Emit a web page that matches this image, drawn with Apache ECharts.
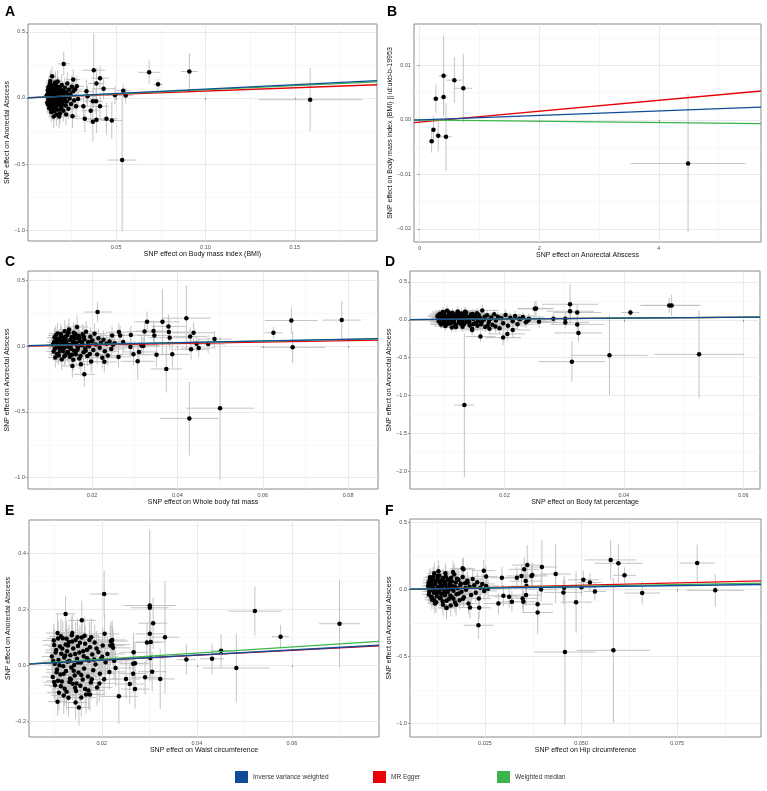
<!DOCTYPE html>
<html lang="en">
<head>
<meta charset="UTF-8">
<script src="https://cdn.jsdelivr.net/npm/echarts@6.0.0/dist/echarts.min.js"></script>
<title>MR scatter plots</title>
<style>
    html, body { margin: 0; padding: 0; background: #fff; }
    #main { width: 767px; height: 791px; }
</style>
</head>
<body>
<div id="main"></div>
<script type="text/javascript">
    // each row: [beta exposure, beta outcome, bar half-width x, bar half-width y]
    var snpA = [
        [0.0112,0.021,0.0018,0.062],[0.0115,-0.034,0.0019,0.071],[0.0118,0.058,0.0020,0.066],[0.0121,-0.012,0.0018,0.058],[0.0123,0.087,0.0021,0.074],[0.0125,0.004,0.0019,0.052],[0.0127,-0.061,0.0022,0.068],[0.0129,0.039,0.0020,0.061],[0.0131,0.112,0.0023,0.079],[0.0133,-0.024,0.0021,0.064],
        [0.0134,0.015,0.0019,0.057],[0.0136,-0.083,0.0022,0.072],[0.0138,0.066,0.0024,0.069],[0.0139,-0.005,0.0020,0.055],[0.0141,0.031,0.0023,0.063],[0.0143,-0.047,0.0021,0.070],[0.0145,0.094,0.0025,0.077],[0.0146,0.008,0.0022,0.059],[0.0148,-0.029,0.0024,0.066],[0.0150,0.052,0.0023,0.062],
        [0.0152,-0.101,0.0026,0.081],[0.0153,0.019,0.0022,0.058],[0.0155,0.073,0.0025,0.071],[0.0157,-0.016,0.0023,0.060],[0.0158,0.041,0.0024,0.065],[0.0160,-0.066,0.0026,0.074],[0.0162,0.105,0.0027,0.082],[0.0163,-0.002,0.0023,0.056],[0.0165,0.028,0.0025,0.063],[0.0167,-0.039,0.0024,0.069],
        [0.0169,0.061,0.0026,0.072],[0.0170,0.011,0.0025,0.059],[0.0172,-0.089,0.0027,0.078],[0.0174,0.047,0.0026,0.066],[0.0176,-0.021,0.0025,0.061],[0.0178,0.083,0.0028,0.075],[0.0180,0.002,0.0026,0.058],[0.0182,-0.053,0.0027,0.070],[0.0184,0.035,0.0028,0.064],[0.0186,-0.118,0.0029,0.085],
        [0.0188,0.068,0.0027,0.071],[0.0190,-0.008,0.0028,0.060],[0.0192,0.023,0.0029,0.067],[0.0194,-0.072,0.0030,0.076],[0.0196,0.098,0.0029,0.080],[0.0198,0.014,0.0028,0.062],[0.0201,-0.035,0.0030,0.069],[0.0203,0.055,0.0031,0.073],[0.0205,-0.097,0.0031,0.082],[0.0208,0.038,0.0030,0.066],
        [0.0210,-0.015,0.0032,0.064],[0.0213,0.078,0.0033,0.077],[0.0215,0.006,0.0031,0.061],[0.0218,-0.058,0.0033,0.074],[0.0221,0.044,0.0034,0.070],[0.0224,-0.026,0.0033,0.068],[0.0227,0.109,0.0035,0.085],[0.0230,0.017,0.0034,0.065],[0.0233,-0.081,0.0036,0.080],[0.0236,0.062,0.0035,0.074],
        [0.0240,-0.004,0.0036,0.067],[0.0244,0.029,0.0037,0.071],[0.0248,-0.045,0.0038,0.076],[0.0252,0.085,0.0039,0.081],[0.0256,-0.138,0.0040,0.090],[0.0260,0.051,0.0041,0.078],[0.0265,-0.019,0.0042,0.073],[0.0270,0.066,0.0043,0.082],[0.0276,-0.062,0.0044,0.085],[0.0120,0.045,0.0019,0.064],
        [0.0126,-0.078,0.0020,0.070],[0.0132,0.128,0.0022,0.083],[0.0137,-0.106,0.0023,0.077],[0.0144,0.002,0.0021,0.057],[0.0151,-0.140,0.0025,0.088],[0.0159,0.118,0.0026,0.084],[0.0166,-0.125,0.0026,0.086],[0.0173,0.125,0.0027,0.087],[0.0181,-0.140,0.0028,0.089],[0.0135,0.052,0.0021,0.060],
        [0.0147,0.070,0.0023,0.064],[0.0156,-0.050,0.0024,0.066],[0.0164,0.086,0.0025,0.070],[0.0171,-0.030,0.0026,0.063],
        [0.0117,0.010,0.0019,0.060],[0.0119,-0.050,0.0019,0.066],[0.0122,0.075,0.0020,0.070],[0.0124,-0.020,0.0020,0.058],[0.0128,0.025,0.0021,0.062],[0.0130,-0.040,0.0021,0.065],[0.0133,0.090,0.0022,0.073],[0.0135,-0.065,0.0022,0.069],[0.0138,0.030,0.0022,0.060],[0.0140,-0.015,0.0022,0.058],
        [0.0142,0.058,0.0023,0.066],[0.0144,-0.090,0.0024,0.075],[0.0147,0.020,0.0023,0.059],[0.0149,-0.008,0.0023,0.057],[0.0152,0.080,0.0024,0.071],[0.0154,-0.035,0.0024,0.063],[0.0157,0.045,0.0025,0.064],[0.0159,-0.075,0.0025,0.072],[0.0161,0.010,0.0024,0.058],[0.0164,0.060,0.0025,0.067],
        [0.0167,-0.055,0.0026,0.070],[0.0170,0.032,0.0026,0.063],[0.0173,-0.010,0.0026,0.060],[0.0177,0.070,0.0027,0.072],[0.0181,-0.030,0.0027,0.064],[0.0185,0.050,0.0028,0.068],[0.0189,-0.085,0.0029,0.077],[0.0193,0.040,0.0029,0.067],[0.0199,-0.050,0.0030,0.071],[0.0206,0.020,0.0031,0.066],
        [0.0207,0.258,0.0033,0.09],[0.0375,0.210,0.0065,0.28],[0.039,0.110,0.0045,0.12],[0.041,0.150,0.005,0.09],[0.043,0.070,0.0065,0.08],[0.0334,0.050,0.004,0.09],[0.0494,0.020,0.005,0.07],[0.054,0.055,0.004,0.05],
        [0.0554,0.018,0.004,0.06],[0.0685,0.194,0.0062,0.09],[0.0735,0.103,0.003,0.04],[0.091,0.200,0.0047,0.14],[0.1586,-0.013,0.029,0.24],[0.0534,-0.470,0.0082,0.54],[0.0446,-0.157,0.006,0.12],[0.0476,-0.170,0.006,0.14],
        [0.039,-0.165,0.005,0.1],[0.037,-0.180,0.004,0.15],[0.0325,-0.157,0.006,0.1],[0.0358,-0.096,0.005,0.09],[0.0317,-0.063,0.004,0.08],[0.0287,-0.008,0.004,0.07],[0.034,0.013,0.005,0.08],[0.037,-0.025,0.005,0.08],
        [0.0388,-0.025,0.004,0.09],[0.041,-0.063,0.005,0.1],[0.026,0.14,0.004,0.08],[0.028,0.088,0.004,0.08],[0.022,-0.126,0.003,0.08],[0.0142,0.164,0.002,0.07]
    ];
    var snpB = [
        [0.20,-0.0039,0.03,0.0021],[0.23,-0.0018,0.03,0.0025],[0.27,0.0039,0.05,0.0026],[0.31,-0.0029,0.05,0.0029],[0.40,0.0042,0.06,0.0032],
        [0.40,0.0081,0.08,0.0074],[0.44,-0.0031,0.10,0.0062],[0.58,0.0073,0.13,0.0042],[0.73,0.0058,0.15,0.0063],[4.49,-0.0080,0.96,0.0127]
    ];
    var snpC = [
        [0.0108,0.012,0.0016,0.058],[0.0110,-0.041,0.0017,0.066],[0.0112,0.064,0.0018,0.071],[0.0114,-0.088,0.0017,0.075],[0.0116,0.028,0.0018,0.060],[0.0118,-0.009,0.0019,0.055],[0.0119,0.096,0.0020,0.079],[0.0121,-0.058,0.0019,0.068],[0.0123,0.041,0.0020,0.062],[0.0124,0.003,0.0018,0.054],
        [0.0126,-0.027,0.0020,0.064],[0.0128,0.075,0.0021,0.072],[0.0129,-0.103,0.0022,0.081],[0.0131,0.019,0.0020,0.058],[0.0133,0.052,0.0021,0.066],[0.0134,-0.016,0.0020,0.061],[0.0136,0.113,0.0023,0.083],[0.0137,-0.069,0.0022,0.073],[0.0139,0.034,0.0021,0.063],[0.0140,-0.004,0.0020,0.057],
        [0.0142,0.083,0.0023,0.075],[0.0143,-0.045,0.0022,0.069],[0.0145,0.009,0.0021,0.056],[0.0146,0.125,0.0024,0.085],[0.0148,-0.081,0.0023,0.077],[0.0149,0.046,0.0022,0.065],[0.0151,-0.022,0.0022,0.062],[0.0152,0.068,0.0023,0.070],[0.0154,-0.151,0.0025,0.090],[0.0155,0.015,0.0022,0.059],
        [0.0157,0.101,0.0024,0.080],[0.0158,-0.035,0.0023,0.066],[0.0160,0.058,0.0024,0.068],[0.0162,-0.062,0.0024,0.072],[0.0163,0.024,0.0023,0.061],[0.0165,0.145,0.0026,0.088],[0.0167,-0.011,0.0024,0.060],[0.0168,0.079,0.0025,0.074],[0.0170,-0.094,0.0026,0.080],[0.0172,0.037,0.0025,0.064],
        [0.0174,-0.139,0.0027,0.087],[0.0176,0.006,0.0025,0.058],[0.0178,0.089,0.0026,0.077],[0.0180,-0.048,0.0026,0.070],[0.0182,0.050,0.0027,0.067],[0.0184,-0.019,0.0026,0.063],[0.0186,0.109,0.0028,0.082],[0.0189,-0.075,0.0028,0.076],[0.0191,0.031,0.0027,0.065],[0.0193,-0.002,0.0027,0.059],
        [0.0196,0.071,0.0029,0.073],[0.0198,-0.118,0.0029,0.085],[0.0201,0.043,0.0029,0.068],[0.0203,-0.031,0.0029,0.066],[0.0206,0.094,0.0030,0.079],[0.0209,0.011,0.0030,0.062],[0.0212,-0.064,0.0031,0.075],[0.0215,0.060,0.0031,0.071],[0.0218,-0.013,0.0031,0.064],[0.0221,0.025,0.0032,0.067],
        [0.0224,-0.089,0.0033,0.081],[0.0227,0.048,0.0033,0.070],[0.0230,-0.040,0.0034,0.072],[0.0234,0.017,0.0034,0.066],[0.0237,-0.071,0.0035,0.078],[0.0241,0.034,0.0035,0.070],[0.0245,-0.022,0.0036,0.069],[0.0249,0.010,0.0036,0.068],[0.0253,0.022,0.0037,0.071],[0.0117,0.047,0.0018,0.063],
        [0.0122,-0.072,0.0019,0.070],[0.0127,0.010,0.0019,0.055],[0.0132,-0.037,0.0020,0.063],[0.0138,0.060,0.0021,0.067],[0.0144,-0.055,0.0022,0.069],[0.0150,0.002,0.0021,0.056],[0.0156,-0.104,0.0024,0.082],[0.0161,0.092,0.0024,0.076],[0.0166,-0.028,0.0024,0.064],[0.0171,0.062,0.0025,0.069],
        [0.0111,0.030,0.0017,0.060],[0.0113,-0.020,0.0017,0.062],[0.0115,0.080,0.0018,0.072],[0.0118,-0.060,0.0019,0.068],[0.0120,0.010,0.0019,0.056],[0.0123,0.058,0.0020,0.066],[0.0125,-0.035,0.0020,0.063],[0.0127,0.092,0.0021,0.076],[0.0130,-0.005,0.0020,0.057],[0.0132,0.040,0.0021,0.063],
        [0.0135,-0.080,0.0022,0.074],[0.0137,0.070,0.0022,0.070],[0.0140,0.020,0.0021,0.059],[0.0142,-0.050,0.0022,0.067],[0.0145,0.100,0.0023,0.078],[0.0147,-0.010,0.0022,0.060],[0.0150,0.045,0.0023,0.065],[0.0153,-0.066,0.0024,0.071],[0.0156,0.030,0.0023,0.062],[0.0159,0.082,0.0024,0.074],
        [0.0162,-0.040,0.0024,0.067],[0.0165,0.005,0.0024,0.060],[0.0169,0.055,0.0025,0.068],[0.0173,-0.075,0.0026,0.075],[0.0177,0.025,0.0026,0.064],[0.0181,0.070,0.0027,0.072],[0.0185,-0.035,0.0027,0.067],[0.0190,0.012,0.0027,0.063],[0.0195,-0.060,0.0028,0.071],[0.0200,0.035,0.0029,0.067],
        [0.0213,0.258,0.0032,0.076],[0.0182,-0.215,0.0025,0.095],[0.0329,0.184,0.003,0.08],[0.0365,0.184,0.004,0.25],[0.0379,0.149,0.004,0.09],[0.038,0.106,0.005,0.1],[0.0382,0.063,0.005,0.09],[0.0421,0.212,0.0057,0.25],
        [0.0438,0.101,0.005,0.08],[0.043,0.073,0.004,0.07],[0.0445,0.018,0.004,0.06],[0.045,-0.015,0.004,0.07],[0.0432,-0.025,0.004,0.08],[0.0472,0.015,0.004,0.07],[0.0487,0.053,0.004,0.06],[0.0351,-0.066,0.004,0.09],
        [0.0388,-0.063,0.004,0.1],[0.0374,-0.174,0.0037,0.18],[0.0428,-0.550,0.0068,0.28],[0.0500,-0.472,0.008,0.54],[0.0625,0.101,0.0021,0.045],[0.0667,0.194,0.0062,0.1],[0.067,-0.010,0.0076,0.12],[0.0785,0.197,0.0045,0.145],
        [0.0323,0.110,0.004,0.08],[0.0344,0.114,0.004,0.08],[0.0346,0.080,0.004,0.08],[0.0316,0.005,0.004,0.07],[0.032,0.0,0.004,0.07],[0.031,-0.045,0.004,0.08],[0.0307,-0.116,0.004,0.14],[0.0297,-0.063,0.004,0.08],
        [0.029,-0.008,0.004,0.07],[0.0273,0.030,0.003,0.07],[0.0266,0.080,0.003,0.07],[0.0263,0.106,0.003,0.07],[0.0291,0.083,0.004,0.07],[0.0247,0.080,0.003,0.07],[0.0262,-0.083,0.003,0.08],[0.0229,-0.120,0.003,0.08]
    ];
    var snpD = [
        [0.0088,0.044,0.0016,0.048],[0.0090,-0.021,0.0016,0.052],[0.0092,0.078,0.0017,0.058],[0.0094,-0.062,0.0017,0.056],[0.0095,0.012,0.0016,0.046],[0.0097,0.103,0.0018,0.062],[0.0098,-0.034,0.0017,0.053],[0.0100,0.051,0.0018,0.055],[0.0101,-0.083,0.0018,0.060],[0.0103,0.021,0.0017,0.049],
        [0.0104,0.120,0.0019,0.066],[0.0106,-0.008,0.0018,0.050],[0.0107,0.064,0.0019,0.057],[0.0109,-0.047,0.0019,0.058],[0.0110,0.033,0.0018,0.052],[0.0112,-0.101,0.0020,0.064],[0.0113,0.089,0.0020,0.061],[0.0115,0.004,0.0019,0.048],[0.0116,-0.026,0.0019,0.054],[0.0118,0.071,0.0020,0.059],
        [0.0119,-0.069,0.0020,0.061],[0.0121,0.042,0.0020,0.055],[0.0122,0.110,0.0021,0.065],[0.0124,-0.014,0.0020,0.052],[0.0125,0.025,0.0020,0.053],[0.0127,-0.052,0.0021,0.059],[0.0128,0.082,0.0021,0.062],[0.0130,-0.091,0.0022,0.065],[0.0131,0.017,0.0021,0.051],[0.0133,0.055,0.0022,0.058],
        [0.0135,-0.032,0.0022,0.056],[0.0136,0.096,0.0023,0.064],[0.0138,-0.005,0.0022,0.052],[0.0140,0.038,0.0023,0.057],[0.0142,-0.075,0.0023,0.063],[0.0144,0.068,0.0024,0.061],[0.0146,-0.118,0.0025,0.070],[0.0148,0.009,0.0024,0.054],[0.0150,0.047,0.0024,0.058],[0.0152,-0.043,0.0025,0.060],
        [0.0154,0.085,0.0025,0.065],[0.0156,-0.018,0.0025,0.056],[0.0159,0.031,0.0026,0.059],[0.0161,-0.060,0.0026,0.063],[0.0163,0.123,0.0027,0.070],[0.0166,0.002,0.0026,0.057],[0.0168,-0.096,0.0027,0.068],[0.0171,0.058,0.0027,0.063],[0.0174,-0.029,0.0028,0.061],[0.0177,0.014,0.0028,0.060],
        [0.0180,-0.066,0.0029,0.066],[0.0183,0.072,0.0029,0.066],[0.0186,-0.010,0.0029,0.061],[0.0189,0.040,0.0030,0.064],[0.0192,-0.112,0.0031,0.072],[0.0195,0.019,0.0030,0.062],[0.0198,-0.045,0.0031,0.066],[0.0202,0.063,0.0032,0.068],[0.0206,-0.080,0.0032,0.071],[0.0210,0.028,0.0033,0.066],
        [0.0214,-0.020,0.0033,0.067],[0.0218,0.049,0.0034,0.069],[0.0222,-0.058,0.0035,0.072],[0.0226,0.008,0.0035,0.068],[0.0231,0.036,0.0036,0.070],[0.0236,-0.033,0.0037,0.071],[0.0241,0.015,0.0037,0.070],[0.0093,0.030,0.0016,0.050],[0.0099,0.090,0.0017,0.060],[0.0105,-0.055,0.0018,0.057],
        [0.0111,0.010,0.0018,0.049],[0.0117,-0.085,0.0019,0.062],[0.0123,0.060,0.0020,0.058],[0.0129,-0.020,0.0021,0.054],[0.0134,0.105,0.0022,0.066],[0.0141,-0.040,0.0023,0.058],[0.0147,0.075,0.0024,0.062],[0.0155,-0.080,0.0025,0.064],
        [0.0089,0.060,0.0016,0.054],[0.0091,0.000,0.0016,0.050],[0.0093,-0.045,0.0017,0.055],[0.0096,0.035,0.0017,0.052],[0.0098,0.070,0.0017,0.058],[0.0100,-0.015,0.0018,0.051],[0.0102,-0.065,0.0018,0.059],[0.0105,0.045,0.0018,0.055],[0.0107,0.095,0.0019,0.062],[0.0109,0.005,0.0018,0.050],
        [0.0112,-0.040,0.0019,0.056],[0.0114,0.055,0.0019,0.057],[0.0117,0.020,0.0019,0.053],[0.0119,-0.095,0.0020,0.064],[0.0121,0.080,0.0020,0.060],[0.0124,-0.035,0.0020,0.056],[0.0126,0.040,0.0021,0.057],[0.0129,0.005,0.0021,0.053],[0.0132,-0.060,0.0022,0.060],[0.0135,0.075,0.0022,0.062],
        [0.0138,0.020,0.0022,0.056],[0.0141,-0.020,0.0023,0.057],[0.0144,0.050,0.0023,0.060],[0.0148,-0.055,0.0024,0.061],[0.0152,0.025,0.0024,0.058],[0.0157,0.065,0.0025,0.063],[0.0162,-0.030,0.0026,0.060],[0.0167,0.040,0.0026,0.062],[0.0172,-0.075,0.0027,0.066],[0.0178,0.030,0.0028,0.062],
        [0.0133,-1.127,0.0017,0.95],[0.016,-0.222,0.0025,0.07],[0.0198,-0.235,0.003,0.1],[0.0205,-0.187,0.003,0.09],[0.0214,-0.135,0.003,0.1],[0.0251,0.144,0.003,0.1],[0.0253,0.150,0.003,0.1],[0.0258,-0.026,0.003,0.08],
        [0.0282,0.013,0.004,0.08],[0.0302,0.013,0.004,0.08],[0.0302,-0.035,0.004,0.08],[0.031,0.205,0.0047,0.27],[0.031,0.113,0.004,0.1],[0.0322,0.096,0.004,0.1],[0.0322,-0.061,0.0045,0.1],[0.0324,-0.174,0.004,0.11],
        [0.0313,-0.553,0.0056,0.27],[0.0376,-0.470,0.0064,0.53],[0.0411,0.096,0.0015,0.05],[0.0476,0.190,0.0049,0.1],[0.048,0.190,0.0049,0.14],[0.0526,-0.457,0.0075,0.58],[0.0146,-0.135,0.002,0.07],[0.0175,-0.12,0.0025,0.08],
        [0.0185,-0.09,0.003,0.08],[0.0225,0.012,0.003,0.07],[0.0240,-0.005,0.003,0.07]
    ];
    var snpE = [
        [0.0095,0.031,0.0022,0.052],[0.0097,-0.042,0.0023,0.058],[0.0099,0.088,0.0024,0.061],[0.0101,0.005,0.0022,0.047],[0.0102,-0.071,0.0024,0.060],[0.0104,0.054,0.0023,0.054],[0.0106,-0.015,0.0023,0.050],[0.0107,0.115,0.0025,0.066],[0.0109,0.019,0.0023,0.049],[0.0110,-0.098,0.0025,0.064],
        [0.0112,0.067,0.0024,0.057],[0.0113,-0.033,0.0024,0.053],[0.0115,0.041,0.0024,0.051],[0.0116,-0.058,0.0025,0.058],[0.0118,0.096,0.0026,0.063],[0.0119,-0.004,0.0024,0.048],[0.0121,0.028,0.0025,0.050],[0.0122,-0.084,0.0026,0.062],[0.0124,0.074,0.0026,0.059],[0.0125,-0.021,0.0025,0.052],
        [0.0127,0.050,0.0026,0.055],[0.0128,0.012,0.0025,0.049],[0.0130,-0.116,0.0027,0.067],[0.0131,0.083,0.0027,0.061],[0.0133,-0.047,0.0026,0.056],[0.0134,0.036,0.0026,0.052],[0.0136,-0.008,0.0026,0.050],[0.0137,0.107,0.0028,0.066],[0.0139,-0.066,0.0027,0.060],[0.0140,0.060,0.0027,0.057],
        [0.0142,0.001,0.0027,0.050],[0.0143,-0.037,0.0027,0.055],[0.0145,0.090,0.0028,0.063],[0.0146,-0.092,0.0028,0.064],[0.0148,0.023,0.0027,0.052],[0.0150,0.069,0.0028,0.059],[0.0151,-0.026,0.0028,0.054],[0.0153,0.045,0.0028,0.056],[0.0155,-0.073,0.0029,0.062],[0.0156,0.010,0.0028,0.052],
        [0.0158,0.099,0.0029,0.065],[0.0160,-0.051,0.0029,0.059],[0.0162,0.032,0.0029,0.055],[0.0163,-0.012,0.0029,0.053],[0.0165,0.077,0.0030,0.062],[0.0167,-0.104,0.0031,0.068],[0.0169,0.055,0.0030,0.059],[0.0171,-0.040,0.0030,0.058],[0.0173,0.017,0.0030,0.055],[0.0175,0.064,0.0031,0.061],
        [0.0177,-0.062,0.0031,0.062],[0.0180,0.038,0.0031,0.058],[0.0182,-0.018,0.0031,0.057],[0.0185,0.081,0.0032,0.064],[0.0187,0.003,0.0032,0.057],[0.0190,-0.079,0.0033,0.066],[0.0193,0.047,0.0033,0.061],[0.0196,-0.030,0.0033,0.060],[0.0199,0.024,0.0034,0.060],[0.0202,0.070,0.0034,0.064],
        [0.0205,-0.050,0.0035,0.064],[0.0208,0.011,0.0035,0.061],[0.0212,0.040,0.0036,0.063],[0.0216,-0.024,0.0036,0.063],[0.0219,0.086,0.0037,0.068],[0.0222,0.074,0.0037,0.067],[0.0224,0.062,0.0037,0.066],[0.0226,0.016,0.0038,0.064],[0.0229,-0.010,0.0038,0.064],[0.0100,0.072,0.0023,0.058],
        [0.0108,-0.055,0.0024,0.057],[0.0114,0.103,0.0025,0.064],[0.0120,-0.108,0.0026,0.066],[0.0126,0.094,0.0026,0.063],[0.0132,-0.060,0.0027,0.058],[0.0138,0.115,0.0028,0.068],[0.0144,-0.080,0.0028,0.062],[0.0149,0.100,0.0029,0.066],[0.0157,-0.115,0.0030,0.068],[0.0164,0.105,0.0031,0.067],
        [0.0172,-0.090,0.0032,0.066],[0.0178,0.100,0.0032,0.067],
        [0.0098,0.015,0.0022,0.050],[0.0100,-0.060,0.0023,0.058],[0.0103,0.045,0.0023,0.054],[0.0105,-0.025,0.0023,0.052],[0.0108,0.095,0.0024,0.063],[0.0111,0.000,0.0024,0.050],[0.0114,-0.075,0.0025,0.060],[0.0117,0.060,0.0025,0.057],[0.0120,-0.030,0.0025,0.054],[0.0123,0.035,0.0026,0.054],
        [0.0126,-0.095,0.0026,0.064],[0.0129,0.070,0.0026,0.060],[0.0132,0.015,0.0026,0.052],[0.0135,-0.050,0.0027,0.058],[0.0138,0.085,0.0027,0.062],[0.0141,-0.020,0.0027,0.054],[0.0144,0.040,0.0028,0.056],[0.0147,-0.065,0.0028,0.061],[0.0150,0.010,0.0028,0.053],[0.0154,0.080,0.0029,0.062],
        [0.0157,-0.035,0.0029,0.057],[0.0161,0.050,0.0029,0.058],[0.0165,-0.085,0.0030,0.065],[0.0169,0.025,0.0030,0.057],[0.0174,0.090,0.0031,0.064],[0.0179,-0.050,0.0031,0.061],[0.0184,0.020,0.0032,0.059],[0.0189,0.060,0.0032,0.062],[0.0195,-0.065,0.0033,0.064],[0.0201,0.030,0.0034,0.062],
        [0.0205,0.254,0.003,0.083],[0.0124,0.183,0.0021,0.063],[0.0158,0.160,0.003,0.07],[0.0301,0.213,0.0055,0.27],[0.0301,0.205,0.004,0.09],[0.0308,0.150,0.003,0.092],[0.0301,0.112,0.003,0.07],[0.0303,0.083,0.003,0.07],
        [0.0295,0.081,0.003,0.07],[0.0333,0.100,0.003,0.2],[0.0302,0.026,0.003,0.07],[0.0306,-0.023,0.003,0.07],[0.0323,-0.049,0.003,0.107],[0.0291,-0.043,0.003,0.06],[0.0266,0.005,0.003,0.07],[0.027,0.007,0.003,0.07],
        [0.0267,0.046,0.003,0.07],[0.0266,-0.030,0.003,0.07],[0.027,-0.085,0.003,0.07],[0.0259,-0.067,0.003,0.07],[0.0251,-0.049,0.003,0.07],[0.0236,-0.111,0.004,0.098],[0.0378,0.020,0.002,0.054],[0.0432,0.023,0.0025,0.054],
        [0.0451,0.052,0.002,0.06],[0.0483,-0.010,0.007,0.122],[0.0522,0.193,0.0056,0.087],[0.0576,0.102,0.0018,0.042],[0.070,0.148,0.0043,0.155],[0.0107,-0.130,0.002,0.05],[0.0152,-0.151,0.0025,0.065],[0.0145,-0.133,0.0025,0.06],
        [0.0175,-0.104,0.003,0.06],[0.0222,0.090,0.003,0.07],[0.0218,0.070,0.003,0.07],[0.0206,0.112,0.003,0.07]
    ];
    var snpF = [
        [0.0102,0.025,0.0016,0.056],[0.0104,-0.038,0.0017,0.062],[0.0106,0.071,0.0017,0.068],[0.0108,-0.006,0.0016,0.052],[0.0110,0.048,0.0017,0.060],[0.0112,-0.077,0.0018,0.070],[0.0114,0.012,0.0017,0.054],[0.0115,0.093,0.0018,0.073],[0.0117,-0.025,0.0018,0.059],[0.0119,0.036,0.0018,0.058],
        [0.0120,-0.104,0.0019,0.078],[0.0122,0.062,0.0019,0.066],[0.0124,0.001,0.0018,0.053],[0.0125,-0.051,0.0019,0.064],[0.0127,0.084,0.0020,0.071],[0.0128,0.019,0.0019,0.056],[0.0130,-0.015,0.0019,0.057],[0.0131,0.104,0.0020,0.076],[0.0133,-0.066,0.0020,0.067],[0.0134,0.043,0.0020,0.060],
        [0.0136,-0.032,0.0020,0.061],[0.0137,0.007,0.0020,0.054],[0.0139,0.075,0.0021,0.069],[0.0140,-0.089,0.0021,0.073],[0.0142,0.030,0.0021,0.058],[0.0143,-0.003,0.0020,0.055],[0.0145,0.056,0.0021,0.064],[0.0146,-0.044,0.0021,0.062],[0.0148,0.097,0.0022,0.074],[0.0150,-0.138,0.0023,0.085],
        [0.0151,0.015,0.0021,0.057],[0.0153,-0.020,0.0022,0.059],[0.0155,0.067,0.0022,0.067],[0.0156,-0.071,0.0023,0.069],[0.0158,0.039,0.0022,0.062],[0.0160,0.004,0.0022,0.056],[0.0162,0.088,0.0023,0.072],[0.0164,-0.056,0.0023,0.066],[0.0166,0.024,0.0023,0.060],[0.0168,-0.010,0.0023,0.058],
        [0.0170,0.112,0.0024,0.079],[0.0172,-0.098,0.0025,0.076],[0.0174,0.051,0.0024,0.065],[0.0176,-0.036,0.0024,0.063],[0.0179,0.009,0.0024,0.059],[0.0181,0.072,0.0025,0.069],[0.0184,-0.080,0.0025,0.072],[0.0186,0.033,0.0025,0.063],[0.0189,-0.017,0.0026,0.062],[0.0192,0.092,0.0026,0.074],
        [0.0195,-0.058,0.0027,0.069],[0.0198,0.046,0.0027,0.066],[0.0201,-0.003,0.0027,0.062],[0.0204,0.065,0.0028,0.070],[0.0207,-0.105,0.0028,0.079],[0.0210,0.020,0.0028,0.065],[0.0214,-0.041,0.0029,0.068],[0.0218,0.078,0.0029,0.073],[0.0222,0.031,0.0030,0.069],[0.0226,-0.025,0.0030,0.068],
        [0.0230,0.054,0.0031,0.072],[0.0234,-0.068,0.0031,0.075],[0.0238,0.012,0.0032,0.070],[0.0243,0.041,0.0032,0.073],[0.0248,-0.011,0.0033,0.071],[0.0253,0.026,0.0033,0.072],[0.0258,0.005,0.0034,0.072],[0.0107,0.090,0.0017,0.070],[0.0113,-0.060,0.0018,0.066],[0.0118,0.120,0.0019,0.080],
        [0.0123,-0.095,0.0019,0.075],[0.0129,0.135,0.0021,0.083],[0.0135,0.060,0.0020,0.063],[0.0141,-0.115,0.0022,0.080],[0.0147,0.120,0.0022,0.079],[0.0154,0.000,0.0021,0.055],[0.0161,-0.120,0.0024,0.082],[0.0167,0.130,0.0024,0.083],[0.0175,-0.115,0.0025,0.080],
        [0.0103,0.050,0.0016,0.060],[0.0105,-0.015,0.0017,0.057],[0.0108,0.030,0.0017,0.058],[0.0110,-0.055,0.0017,0.066],[0.0113,0.070,0.0018,0.068],[0.0116,0.000,0.0018,0.055],[0.0118,-0.080,0.0018,0.072],[0.0121,0.045,0.0019,0.062],[0.0124,-0.030,0.0019,0.060],[0.0126,0.100,0.0020,0.075],
        [0.0129,-0.005,0.0019,0.056],[0.0132,0.060,0.0020,0.066],[0.0135,-0.060,0.0020,0.067],[0.0138,0.025,0.0020,0.059],[0.0141,0.085,0.0021,0.071],[0.0144,-0.025,0.0021,0.060],[0.0147,0.040,0.0021,0.062],[0.0150,-0.085,0.0022,0.073],[0.0153,0.075,0.0022,0.069],[0.0157,0.010,0.0022,0.058],
        [0.0160,-0.045,0.0023,0.065],[0.0164,0.060,0.0023,0.067],[0.0168,-0.070,0.0024,0.070],[0.0172,0.020,0.0024,0.061],[0.0177,0.080,0.0025,0.071],[0.0182,-0.030,0.0025,0.063],[0.0187,0.045,0.0026,0.066],[0.0193,-0.070,0.0026,0.070],[0.0199,0.010,0.0027,0.064],[0.0205,0.050,0.0028,0.069],
        [0.0233,-0.267,0.0039,0.1],[0.0211,-0.135,0.003,0.08],[0.0235,-0.137,0.003,0.08],[0.015,-0.137,0.002,0.08],[0.0192,0.157,0.003,0.08],[0.0194,0.150,0.003,0.08],[0.0247,0.140,0.003,0.08],[0.0253,0.097,0.003,0.08],
        [0.0294,0.087,0.004,0.08],[0.0333,0.087,0.004,0.08],[0.0345,0.100,0.004,0.09],[0.0352,0.150,0.004,0.09],[0.036,0.182,0.004,0.15],[0.0356,0.062,0.004,0.08],[0.0358,0.025,0.004,0.08],[0.0357,-0.042,0.004,0.08],
        [0.0371,0.100,0.004,0.08],[0.0373,0.108,0.004,0.09],[0.0398,0.167,0.004,0.2],[0.0396,0.000,0.004,0.09],[0.0387,-0.110,0.004,0.1],[0.0387,-0.172,0.004,0.16],[0.0348,-0.067,0.004,0.08],[0.035,-0.092,0.004,0.08],
        [0.032,-0.092,0.004,0.08],[0.0313,-0.055,0.004,0.08],[0.0298,-0.047,0.004,0.08],[0.0285,-0.105,0.004,0.08],[0.0434,0.115,0.004,0.22],[0.0454,-0.022,0.005,0.09],[0.0456,0.012,0.005,0.09],[0.0458,-0.467,0.008,0.54],
        [0.0487,-0.095,0.004,0.23],[0.0501,0.017,0.004,0.07],[0.0506,0.072,0.004,0.07],[0.0523,0.052,0.003,0.07],[0.0536,-0.015,0.003,0.07],[0.0577,0.220,0.0067,0.15],[0.0597,0.195,0.0063,0.14],[0.0613,0.105,0.003,0.06],
        [0.0584,-0.454,0.0095,0.54],[0.0659,-0.027,0.0046,0.087],[0.0802,0.197,0.0046,0.137],[0.0849,-0.007,0.0074,0.122]
    ];

    // [IVW slope, MR Egger intercept, MR Egger slope, weighted median slope]
    var fitA = [0.67, 0.002, 0.50, 0.62];
    var fitB = [0.00041, -0.0004, 0.001, -0.00012];
    var fitC = [0.64, -0.0027, 0.55, 0.63];
    var fitD = [0.56, 0.0, 0.55, 0.57];
    var fitE = [0.91, 0.001, 0.87, 1.09];
    var fitF = [0.38, -0.004, 0.70, 0.48];

    var methods = ['Inverse variance weighted', 'MR Egger', 'Weighted median'];
    var methodColors = ['#0E4C98', '#E8000B', '#3BB54A'];
    var drawOrder = [1, 2, 0]; // IVW drawn last, on top

    var panelLetters = ['A', 'B', 'C', 'D', 'E', 'F'];
    var xTitles = ['SNP effect on Body mass index (BMI)', 'SNP effect on Anorectal Abscess', 'SNP effect on Whole body fat mass',
        'SNP effect on Body fat percentage', 'SNP effect on Waist circumference', 'SNP effect on Hip circumference'];
    var yTitles = ['SNP effect on Anorectal Abscess', 'SNP effect on Body mass index (BMI) || id:ukb-b-19953', 'SNP effect on Anorectal Abscess',
        'SNP effect on Anorectal Abscess', 'SNP effect on Anorectal Abscess', 'SNP effect on Anorectal Abscess'];

    // axis ranges and breaks
    var xRanges = [[0.0007, 0.196], [-0.095, 5.71], [0.005, 0.087], [0.0042, 0.0628], [0.0047, 0.0783], [0.0055, 0.0968]];
    var yRanges = [[-1.083, 0.56], [-0.0224, 0.0176], [-1.086, 0.57], [-2.235, 0.644], [-0.256, 0.518], [-1.1, 0.525]];
    var xTicks = [[0.05, 0.10, 0.15], [0, 2, 4], [0.02, 0.04, 0.06, 0.08], [0.02, 0.04, 0.06], [0.02, 0.04, 0.06], [0.025, 0.050, 0.075]];
    var yTicks = [[-1.0, -0.5, 0.0, 0.5], [-0.02, -0.01, 0.00, 0.01], [-1.0, -0.5, 0.0, 0.5], [-2.0, -1.5, -1.0, -0.5, 0.0, 0.5], [-0.2, 0.0, 0.2, 0.4], [-1.0, -0.5, 0.0, 0.5]];
    var xMinor = [[0.025, 0.075, 0.125, 0.175], [1, 3, 5], [0.01, 0.03, 0.05, 0.07], [0.01, 0.03, 0.05], [0.01, 0.03, 0.05, 0.07], [0.0125, 0.0375, 0.0625, 0.0875]];
    var yMinor = [[-0.75, -0.25, 0.25], [-0.015, -0.005, 0.005, 0.015], [-0.75, -0.25, 0.25], [-1.75, -1.25, -0.75, -0.25, 0.25], [-0.1, 0.1, 0.3, 0.5], [-0.75, -0.25, 0.25]];
    var xDecimals = [2, 0, 2, 2, 2, 3];
    var yDecimals = [1, 2, 1, 1, 1, 1];

    var snps = [snpA, snpB, snpC, snpD, snpE, snpF];
    var fits = [fitA, fitB, fitC, fitD, fitE, fitF];

    var grids = [
        {left: 28, top: 24, width: 349, height: 217},
        {left: 414, top: 24, width: 347, height: 218},
        {left: 28, top: 271, width: 350, height: 218},
        {left: 410, top: 271, width: 350, height: 218},
        {left: 29, top: 520, width: 350, height: 217},
        {left: 410, top: 519, width: 351, height: 218}
    ];
    var yNameGaps = [16, 20, 16, 15, 15, 15];
    var letterPos = [[5, 5], [387, 5], [5, 255], [385, 255], [5, 504], [385, 504]];

    var FONT = '"Liberation Sans", Arial, sans-serif';

    function fmt(v, d) {
        return v.toFixed(d).replace('-', '\u2212');
    }

    function drawBars(params, api) {
        var bx = api.value(0), by = api.value(1), sx = api.value(2), sy = api.value(3);
        var h0 = api.coord([bx - sx, by]);
        var h1 = api.coord([bx + sx, by]);
        var v0 = api.coord([bx, by - sy]);
        var v1 = api.coord([bx, by + sy]);
        var style = {stroke: '#bdbdbd', lineWidth: 0.9};
        return {
            type: 'group',
            children: [
                {type: 'line', shape: {x1: h0[0], y1: h0[1], x2: h1[0], y2: h1[1]}, style: style},
                {type: 'line', shape: {x1: v0[0], y1: v0[1], x2: v1[0], y2: v1[1]}, style: style}
            ]
        };
    }

    var xAxis = [], yAxis = [], series = [], titles = [];

    grids.forEach(function (g, i) {
        var xd = xDecimals[i], yd = yDecimals[i];
        // major axes
        xAxis.push({
            type: 'value', gridIndex: i, min: xRanges[i][0], max: xRanges[i][1],
            name: xTitles[i], nameLocation: 'middle', nameGap: 9,
            nameTextStyle: {fontSize: 7, color: '#111', fontFamily: FONT},
            axisLine: {show: false},
            axisTick: {show: true, length: 2, customValues: xTicks[i], lineStyle: {color: '#555', width: 0.6}},
            axisLabel: {customValues: xTicks[i], fontSize: 5.5, color: '#4d4d4d', margin: 3, fontFamily: FONT,
                formatter: function (v) { return fmt(v, xd); }},
            splitLine: {show: true, lineStyle: {color: '#e4e4e4', width: 0.8}}
        });
        yAxis.push({
            type: 'value', gridIndex: i, min: yRanges[i][0], max: yRanges[i][1],
            name: yTitles[i], nameLocation: 'middle', nameGap: yNameGaps[i],
            nameTextStyle: {fontSize: 7, color: '#111', fontFamily: FONT},
            axisLine: {show: false},
            axisTick: {show: true, length: 2, customValues: yTicks[i], lineStyle: {color: '#555', width: 0.6}},
            axisLabel: {customValues: yTicks[i], fontSize: 5.5, color: '#4d4d4d', margin: 3, fontFamily: FONT,
                formatter: function (v) { return fmt(v, yd); }},
            splitLine: {show: true, lineStyle: {color: '#e4e4e4', width: 0.8}}
        });
        // minor grid lines
        xAxis.push({
            type: 'value', gridIndex: i, min: xRanges[i][0], max: xRanges[i][1],
            axisLine: {show: false}, axisLabel: {show: false},
            axisTick: {show: false, customValues: xMinor[i]},
            splitLine: {show: true, lineStyle: {color: '#f2f2f2', width: 0.6}}
        });
        yAxis.push({
            type: 'value', gridIndex: i, min: yRanges[i][0], max: yRanges[i][1],
            axisLine: {show: false}, axisLabel: {show: false},
            axisTick: {show: false, customValues: yMinor[i]},
            splitLine: {show: true, lineStyle: {color: '#f2f2f2', width: 0.6}}
        });

        var xi = 2 * i, yi = 2 * i;
        series.push({
            type: 'custom', xAxisIndex: xi, yAxisIndex: yi, renderItem: drawBars,
            encode: {x: 0, y: 1}, data: snps[i], clip: true, silent: true, z: 2
        });
        series.push({
            type: 'scatter', xAxisIndex: xi, yAxisIndex: yi, symbolSize: 4.5,
            itemStyle: {color: '#000', opacity: 1}, silent: true, z: 3,
            data: snps[i].map(function (r) { return [r[0], r[1]]; })
        });

        var f = fits[i];
        var x0 = xRanges[i][0], x1 = xRanges[i][1];
        var lines = [
            [[x0, f[0] * x0], [x1, f[0] * x1]],
            [[x0, f[1] + f[2] * x0], [x1, f[1] + f[2] * x1]],
            [[x0, f[3] * x0], [x1, f[3] * x1]]
        ];
        drawOrder.forEach(function (k) {
            series.push({
                type: 'line', name: methods[k], xAxisIndex: xi, yAxisIndex: yi,
                data: lines[k], showSymbol: false, silent: true, z: 4, clip: true,
                itemStyle: {color: methodColors[k]},
                lineStyle: {color: methodColors[k], width: 1.3}
            });
        });

        titles.push({
            text: panelLetters[i], left: letterPos[i][0], top: letterPos[i][1], padding: 0,
            textStyle: {fontSize: 14, fontWeight: 'bold', color: '#000', fontFamily: FONT}
        });
    });

    var legendLefts = [235, 373, 497];
    var legends = methods.map(function (m, k) {
        return {
            data: [m], left: legendLefts[k], top: 771, icon: 'rect', itemWidth: 13, itemHeight: 12,
            itemGap: 0, selectedMode: false, padding: 0,
            textStyle: {fontSize: 6.5, color: '#333', fontFamily: FONT}
        };
    });

    var chart = echarts.init(document.getElementById('main'));
    chart.setOption({
        animation: false,
        backgroundColor: '#fff',
        title: titles,
        legend: legends,
        grid: grids.map(function (g) {
            return {left: g.left, top: g.top, width: g.width, height: g.height, show: true,
                borderColor: '#8a8a8a', borderWidth: 1, backgroundColor: '#fff'};
        }),
        xAxis: xAxis,
        yAxis: yAxis,
        series: series
    });
</script>
</body>
</html>
